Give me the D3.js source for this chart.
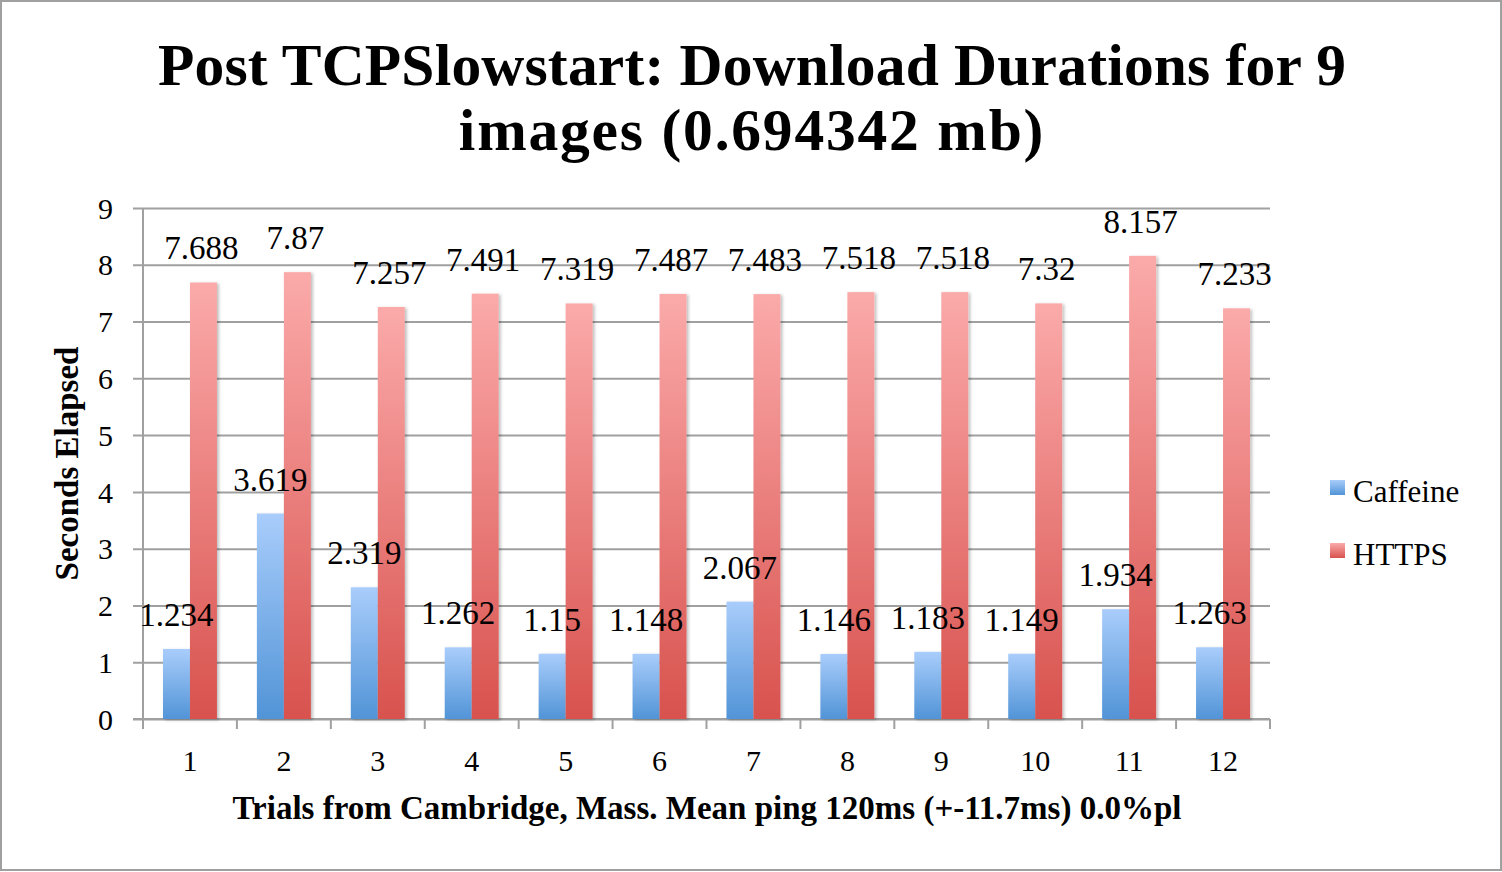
<!DOCTYPE html>
<html>
<head>
<meta charset="utf-8">
<script src="https://cdn.jsdelivr.net/npm/d3@7"></script>
<style>
  body { margin: 0; background: #fff; }
  svg text { font-family: 'Liberation Serif', 'Times New Roman', serif; fill: #000; }
</style>
</head>
<body>
<div id="chart"></div>
<script>
// data
const trials = ["1", "2", "3", "4", "5", "6", "7", "8", "9", "10", "11", "12"];
const caffeine = [1.234, 3.619, 2.319, 1.262, 1.15, 1.148, 2.067, 1.146, 1.183, 1.149, 1.934, 1.263];
const https = [7.688, 7.87, 7.257, 7.491, 7.319, 7.487, 7.483, 7.518, 7.518, 7.32, 8.157, 7.233];
const seriesNames = ["Caffeine", "HTTPS"];
const yTicks = [0, 1, 2, 3, 4, 5, 6, 7, 8, 9];

const width = 1502, height = 872;
const margin = { top: 208, right: 232, bottom: 153, left: 143 };

const svg = d3.select("#chart").append("svg")
  .attr("width", width)
  .attr("height", height);

const defs = svg.append("defs");

function gradient(id, top, bottom) {
  let g = defs.append("linearGradient")
    .attr("id", id)
    .attr("x1", 0).attr("y1", 0).attr("x2", 0).attr("y2", 1);
  g.append("stop").attr("offset", "0%").attr("stop-color", top);
  g.append("stop").attr("offset", "100%").attr("stop-color", bottom);
}
gradient("grad-caffeine", "#a9cdfb", "#5194d7");
gradient("grad-https", "#fbaaaa", "#d8524e");

const shadow = defs.append("filter").attr("id", "shadow")
  .attr("x", "-20%").attr("y", "-5%").attr("width", "150%").attr("height", "110%");
shadow.append("feDropShadow")
  .attr("dx", 2).attr("dy", 1).attr("stdDeviation", 1.5)
  .attr("flood-color", "#000").attr("flood-opacity", 0.25);

// outer border
svg.append("rect")
  .attr("x", 1).attr("y", 1)
  .attr("width", width - 2).attr("height", height - 3)
  .attr("fill", "none")
  .attr("stroke", "#a0a0a0")
  .attr("stroke-width", 2);

const x0 = d3.scaleBand()
  .domain(trials)
  .range([margin.left, width - margin.right]);

const x1 = d3.scaleBand()
  .domain(seriesNames)
  .range([0, x0.bandwidth()])
  .paddingInner(0)
  .paddingOuter(0.74);

const y = d3.scaleLinear()
  .domain([0, 9])
  .range([height - margin.bottom, margin.top]);

const color = { Caffeine: "url(#grad-caffeine)", HTTPS: "url(#grad-https)" };

// gridlines + y tick labels
const yAxis = svg.append("g")
  .attr("transform", `translate(${margin.left}, 0)`)
  .call(d3.axisLeft(y)
    .tickValues(yTicks)
    .tickSize(-(width - margin.left - margin.right))
    .tickSizeOuter(0)
    .tickPadding(30));
yAxis.select(".domain").remove();
yAxis.selectAll(".tick line")
  .attr("x1", -10)
  .attr("stroke", "#a0a0a0")
  .attr("stroke-width", 2);
yAxis.selectAll(".tick text")
  .attr("font-size", 30)
  .attr("font-family", "'Liberation Serif', serif")
  .attr("dy", "0.34em");

// x axis
const xAxis = svg.append("g")
  .attr("transform", `translate(0, ${y(0)})`);
xAxis.append("line")
  .attr("x1", margin.left - 10).attr("x2", width - margin.right)
  .attr("stroke", "#a0a0a0").attr("stroke-width", 2);
xAxis.selectAll("line.cat-tick")
  .data(d3.range(trials.length + 1))
  .join("line")
  .attr("class", "cat-tick")
  .attr("x1", i => margin.left + i * x0.step())
  .attr("x2", i => margin.left + i * x0.step())
  .attr("y1", 0).attr("y2", 10)
  .attr("stroke", "#a0a0a0").attr("stroke-width", 2);
xAxis.selectAll("text")
  .data(trials)
  .join("text")
  .attr("x", d => x0(d) + x0.bandwidth() / 2)
  .attr("y", 52)
  .attr("text-anchor", "middle")
  .attr("font-size", 30)
  .text(d => d);

// y axis line
svg.append("line")
  .attr("x1", margin.left).attr("x2", margin.left)
  .attr("y1", y(9)).attr("y2", y(0) + 10)
  .attr("stroke", "#a0a0a0").attr("stroke-width", 2);

// bars
const rows = trials.map((t, i) => ({ trial: t, Caffeine: caffeine[i], HTTPS: https[i] }));

const groups = svg.append("g").selectAll("g")
  .data(rows)
  .join("g")
  .attr("transform", d => `translate(${x0(d.trial)}, 0)`);

groups.selectAll("rect")
  .data(d => seriesNames.map(k => ({ key: k, value: d[k] })))
  .join("rect")
  .attr("x", d => x1(d.key))
  .attr("y", d => y(d.value))
  .attr("width", x1.bandwidth())
  .attr("height", d => y(0) - y(d.value))
  .attr("fill", d => color[d.key])
  .attr("filter", "url(#shadow)");

groups.selectAll("text")
  .data(d => seriesNames.map(k => ({ key: k, value: d[k] })))
  .join("text")
  .attr("x", d => x1(d.key) + x1.bandwidth() / 2 - (d.key === "HTTPS" ? 2 : 0))
  .attr("y", d => y(d.value) - 23)
  .attr("text-anchor", "middle")
  .attr("font-size", 33)
  .text(d => d.value);

// title
const title = svg.append("text")
  .attr("text-anchor", "middle")
  .attr("font-size", 59.5)
  .attr("font-weight", "bold");
title.append("tspan").attr("x", 752).attr("y", 85)
  .attr("letter-spacing", 0.2)
  .text("Post TCPSlowstart: Download Durations for 9");
title.append("tspan").attr("x", 752).attr("y", 150)
  .attr("letter-spacing", 1.8)
  .text("images (0.694342 mb)");

// axis titles
svg.append("text")
  .attr("transform", `translate(78, ${(y(0) + y(9)) / 2}) rotate(-90)`)
  .attr("text-anchor", "middle")
  .attr("font-size", 33)
  .attr("font-weight", "bold")
  .text("Seconds Elapsed");

svg.append("text")
  .attr("x", 707)
  .attr("y", 819)
  .attr("text-anchor", "middle")
  .attr("font-size", 33)
  .attr("font-weight", "bold")
  .text("Trials from Cambridge, Mass. Mean ping 120ms (+-11.7ms) 0.0%pl");

// legend
const legend = svg.append("g")
  .selectAll("g")
  .data(seriesNames)
  .join("g")
  .attr("transform", (d, i) => `translate(1330, ${480 + i * 63})`);
legend.append("rect")
  .attr("width", 15).attr("height", 15)
  .attr("fill", d => color[d]);
legend.append("text")
  .attr("x", 23).attr("y", 22)
  .attr("font-size", 31)
  .text(d => d);
</script>
</body>
</html>
